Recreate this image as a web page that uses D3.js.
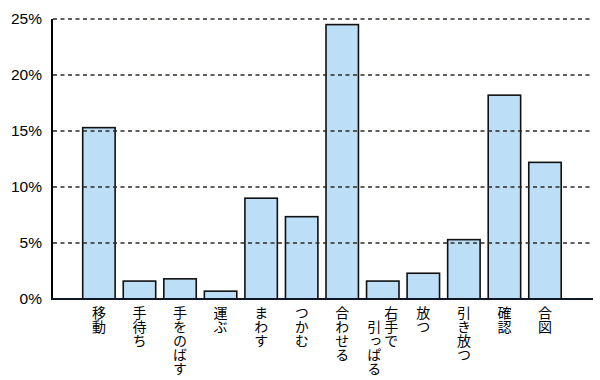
<!DOCTYPE html>
<html>
<head>
<meta charset="utf-8">
<script src="https://cdn.jsdelivr.net/npm/d3@7"></script>
<style>
  html, body { margin: 0; padding: 0; background: #fff; }
  svg { display: block; }
</style>
</head>
<body>
<svg id="chart" width="600" height="380"></svg>
<script>
// ---- data ----
const categories = ["移動", "手待ち", "手をのばす", "運ぶ", "まわす", "つかむ", "合わせる", "右手で\n　引っぱる", "放つ", "引き放つ", "確認", "合図"];
const values = [15.3, 1.6, 1.8, 0.7, 9.0, 7.35, 24.5, 1.6, 2.3, 5.3, 18.2, 12.2];
const yTicks = [0, 5, 10, 15, 20, 25];
const yTickLabels = ["0%", "5%", "10%", "15%", "20%", "25%"];

// ---- layout ----
const svg = d3.select("#chart");
const axisX = 52, axisRight = 593;
const x = d3.scaleBand().domain(categories).range([78.65, 565.25]).paddingInner(0.2).paddingOuter(0.1);
const y = d3.scaleLinear().domain([0, 25]).range([299, 19]);

// bars
svg.append("g").selectAll("rect").data(categories).join("rect")
  .attr("x", d => x(d))
  .attr("y", (d, i) => y(values[i]))
  .attr("width", x.bandwidth())
  .attr("height", (d, i) => y(0) - y(values[i]))
  .attr("fill", "#bcdff7")
  .attr("stroke", "#111")
  .attr("stroke-width", 1.6);

// gridlines (drawn over bars)
svg.append("g").selectAll("line").data(yTicks.filter(t => t > 0)).join("line")
  .attr("x1", axisX + 1).attr("x2", axisRight)
  .attr("y1", d => y(d)).attr("y2", d => y(d))
  .attr("stroke", "#2e2a24")
  .attr("stroke-width", 1.3)
  .attr("stroke-dasharray", "4,3.5");

// axes lines
svg.append("line").attr("x1", axisX).attr("x2", axisX).attr("y1", y(25)).attr("y2", y(0) + 1)
  .attr("stroke", "#000").attr("stroke-width", 2);
svg.append("line").attr("x1", axisX).attr("x2", axisRight).attr("y1", y(0)).attr("y2", y(0))
  .attr("stroke", "#101828").attr("stroke-width", 2.2);

// y tick labels
const yAxis = d3.axisLeft(y).tickValues(yTicks).tickFormat((d, i) => yTickLabels[i]).tickSize(0).tickPadding(10);
const ya = svg.append("g").attr("transform", `translate(${axisX},0)`).call(yAxis);
ya.select(".domain").remove();
ya.selectAll("text")
  .attr("font-family", "'Liberation Sans', Arial, sans-serif")
  .attr("font-size", 15.5)
  .attr("fill", "#000");

// x labels (vertical Japanese text)
const lblG = svg.append("g");
categories.forEach(c => {
  const cols = c.split("\n");
  const cx = x(c) + x.bandwidth() / 2;
  const colGap = 17;
  cols.forEach((col, j) => {
    const colX = cx + (cols.length - 1) / 2 * colGap - j * colGap;
    lblG.append("text")
      .attr("x", colX)
      .attr("y", 306)
      .attr("font-family", "'Noto Sans CJK JP', sans-serif")
      .attr("font-size", 14)
      .attr("fill", "#000")
      .style("writing-mode", "vertical-rl")
      .text(col);
  });
});
</script>
</body>
</html>
